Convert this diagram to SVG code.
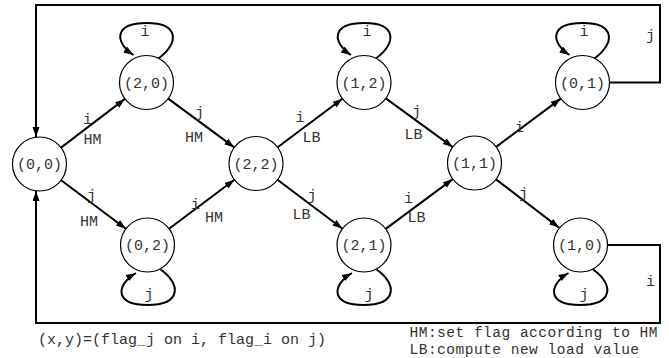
<svg xmlns="http://www.w3.org/2000/svg" width="669" height="358" viewBox="0 0 669 358">
<style>
text{font-family:"Liberation Mono","DejaVu Sans Mono",monospace;font-size:15px;fill:#333}
.n{text-anchor:middle}
.l{text-anchor:middle}
.lg{font-size:14.5px;letter-spacing:0.5px}
circle{fill:#fff;stroke:#000;stroke-width:1.2}
.e{fill:none;stroke:#000;stroke-width:2;marker-end:url(#ah)}
</style>
<defs>
<marker id="ah" markerUnits="userSpaceOnUse" markerWidth="12" markerHeight="10" refX="10" refY="3.5" orient="auto">
<path d="M0,0 L10,3.5 L0,7 z" fill="#000"/>
</marker>
</defs>
<g id="connectors">
<path class="e" d="M61,147.6 L125,98.9"/>
<path class="e" d="M61.1,180.2 L125.9,228.8"/>
<path class="e" d="M168.2,98.6 L234.3,147.4"/>
<path class="e" d="M169.1,228.8 L234.4,179.7"/>
<path class="e" d="M277.6,147.3 L342.4,98.7"/>
<path class="e" d="M277.5,179.8 L342.5,228.7"/>
<path class="e" d="M385.8,98.4 L452.7,147.1"/>
<path class="e" d="M385.7,228.9 L452.8,179.1"/>
<path class="e" d="M496.1,146.9 L560.8,98.6"/>
<path class="e" d="M496,179.4 L559,227.6"/>
<path class="e" d="M609.5,82.5 H660 V5 H36 V137"/>
<path class="e" d="M607.5,245 H660 V323 H36 V191"/>
<path class="e" d="M158.5,58.5 C178.5,44 180.5,23 146.5,23 C113.5,23 114.5,42.5 133.5,55"/>
<path class="e" d="M376,58.5 C396,44 398,23 364,23 C331,23 332,42.5 351,55"/>
<path class="e" d="M594.5,58.5 C614.5,44 616.5,23 582.5,23 C549.5,23 550.5,42.5 569.5,55"/>
<path class="e" d="M160.5,269.5 C180.5,283 182.5,305 147.5,305 C114.5,305 115.5,285 136,273"/>
<path class="e" d="M376.5,269.5 C396.5,283 398.5,305 363.5,305 C330.5,305 331.5,285 352,273"/>
<path class="e" d="M593,269.5 C613,283 615,305 580,305 C547,305 548,285 568.5,273"/>
<text class="l" x="87.5" y="124">i</text>
<text class="l" x="92.5" y="144">HM</text>
<text class="l" x="91.5" y="200">j</text>
<text class="l" x="89" y="226">HM</text>
<text class="l" x="199.5" y="117">j</text>
<text class="l" x="194" y="142">HM</text>
<text class="l" x="195.5" y="209">i</text>
<text class="l" x="214" y="222">HM</text>
<text class="l" x="300" y="122">i</text>
<text class="l" x="311.5" y="142">LB</text>
<text class="l" x="312" y="200">j</text>
<text class="l" x="301.5" y="219">LB</text>
<text class="l" x="416.5" y="116">j</text>
<text class="l" x="413.5" y="139">LB</text>
<text class="l" x="408.5" y="203">i</text>
<text class="l" x="416.5" y="222">LB</text>
<text class="l" x="519.5" y="132">i</text>
<text class="l" x="523.5" y="198">j</text>
<text class="l" x="145" y="36">i</text>
<text class="l" x="367" y="36">i</text>
<text class="l" x="584" y="36">i</text>
<text class="l" x="149" y="299">j</text>
<text class="l" x="369" y="299">j</text>
<text class="l" x="584" y="299">j</text>
<text class="l" x="650.5" y="40">j</text>
<text class="l" x="650.5" y="286">i</text>
</g>
<g id="n00"><circle cx="39.5" cy="164" r="27"/><text class="n" x="39.5" y="169">(0,0)</text></g>
<g id="n20"><circle cx="146.5" cy="82.5" r="27"/><text class="n" x="146.5" y="87.5">(2,0)</text></g>
<g id="n02"><circle cx="147.5" cy="245" r="27"/><text class="n" x="147.5" y="250">(0,2)</text></g>
<g id="n22"><circle cx="256" cy="163.5" r="27"/><text class="n" x="256" y="168.5">(2,2)</text></g>
<g id="n12"><circle cx="364" cy="82.5" r="27"/><text class="n" x="364" y="87.5">(1,2)</text></g>
<g id="n21"><circle cx="364" cy="245" r="27"/><text class="n" x="364" y="250">(2,1)</text></g>
<g id="n11"><circle cx="474.5" cy="163" r="27"/><text class="n" x="474.5" y="168">(1,1)</text></g>
<g id="n01"><circle cx="582.5" cy="82.5" r="27"/><text class="n" x="582.5" y="87.5">(0,1)</text></g>
<g id="n10"><circle cx="580.5" cy="245" r="27"/><text class="n" x="580.5" y="250">(1,0)</text></g>
<g id="notes">
<text x="38" y="344">(x,y)=(flag_j on i, flag_i on j)</text>
<text class="lg" x="409.5" y="337">HM:set flag according to HM</text>
<text class="lg" x="409.5" y="353.5">LB:compute new load value</text>
</g>
</svg>
